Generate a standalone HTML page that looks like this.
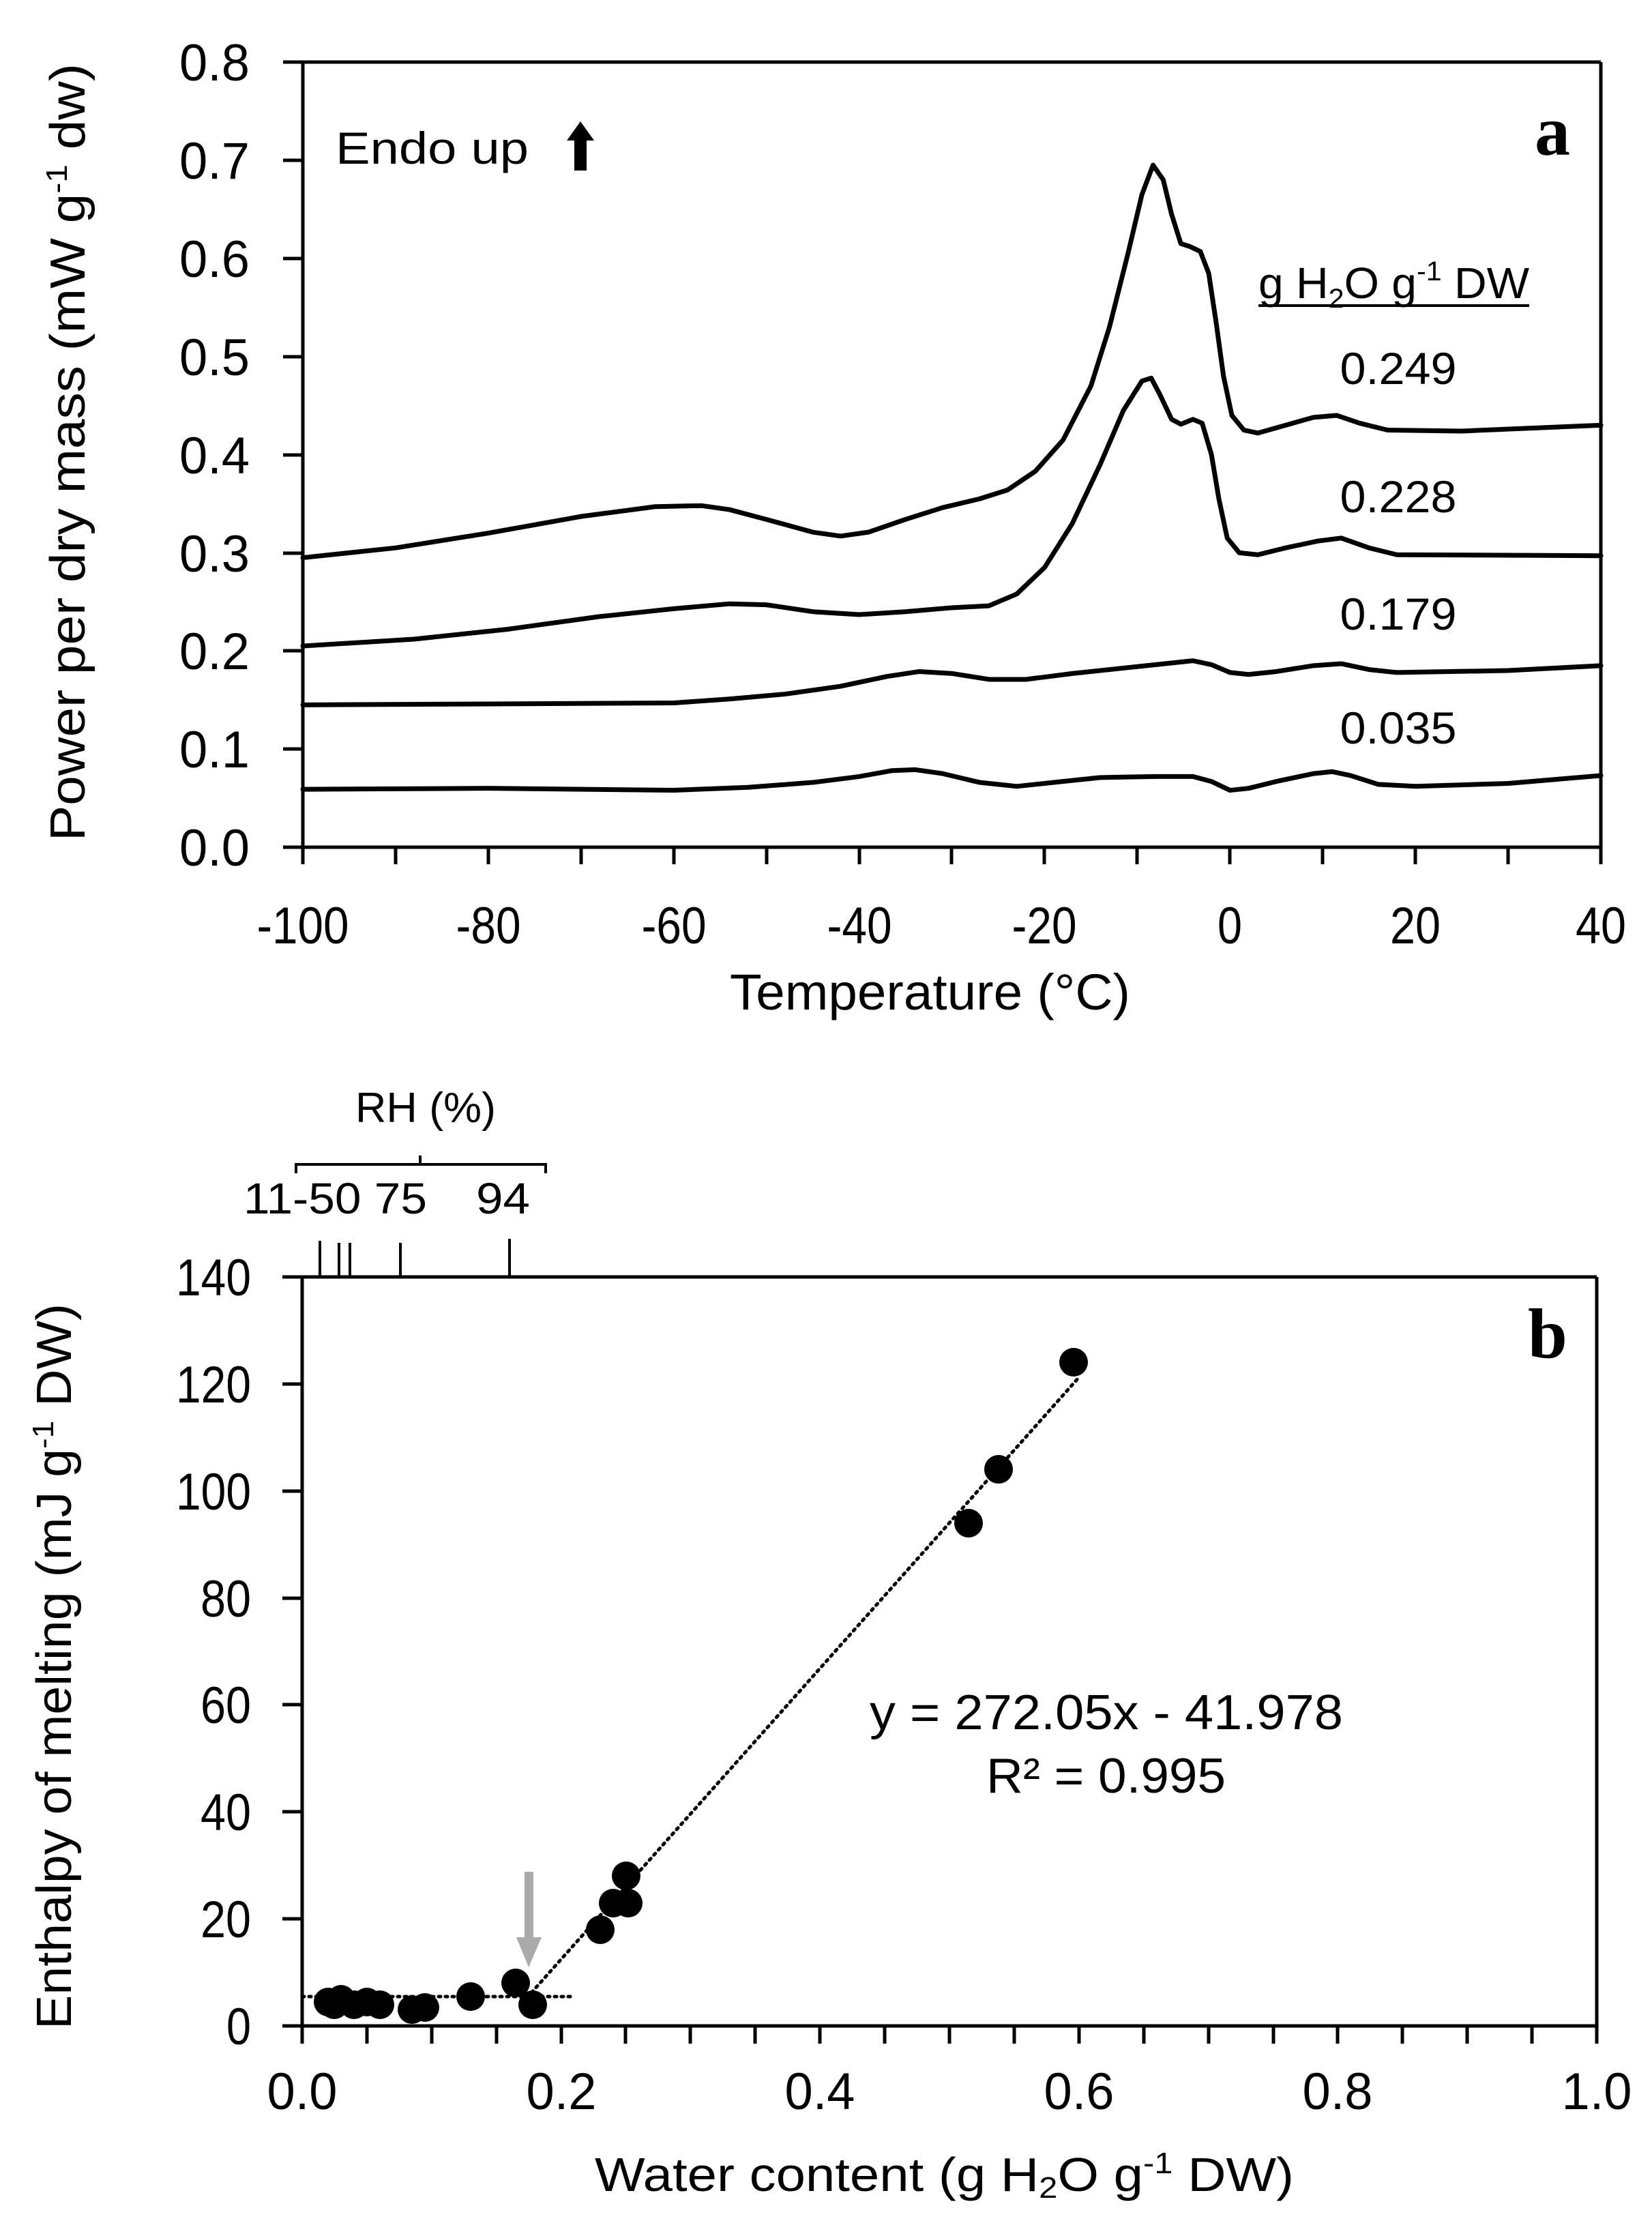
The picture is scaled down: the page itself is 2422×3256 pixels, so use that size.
<!DOCTYPE html>
<html><head><meta charset="utf-8"><style>html,body{margin:0;padding:0;background:#fff}svg{display:block}</style></head>
<body>
<svg width="2422" height="3256" viewBox="0 0 2422 3256" xmlns="http://www.w3.org/2000/svg" font-family="Liberation Sans, sans-serif" fill="#000">
<rect width="2422" height="3256" fill="#fff"/>
<!-- PANEL A -->
<g stroke="#000" stroke-width="5" fill="none">
<line x1="444" y1="91" x2="2347" y2="91"/>
<line x1="2347" y1="91" x2="2347" y2="1242"/>
<line x1="444" y1="91" x2="444" y2="1267"/>
<line x1="415" y1="1242" x2="2347" y2="1242"/>
<path d="M415 91H444M415 235H444M415 379H444M415 523H444M415 667H444M415 811H444M415 954H444M415 1098H444"/>
<path d="M580 1242v25M716 1242v25M852 1242v25M988 1242v25M1124 1242v25M1260 1242v25M1395 1242v25M1531 1242v25M1667 1242v25M1803 1242v25M1939 1242v25M2075 1242v25M2211 1242v25M2347 1242v25"/>
</g>
<g font-size="76" text-anchor="end" lengthAdjust="spacingAndGlyphs">
<text x="366" y="118" textLength="103" lengthAdjust="spacingAndGlyphs">0.8</text><text x="366" y="262" textLength="103" lengthAdjust="spacingAndGlyphs">0.7</text><text x="366" y="406" textLength="103" lengthAdjust="spacingAndGlyphs">0.6</text><text x="366" y="550" textLength="103" lengthAdjust="spacingAndGlyphs">0.5</text><text x="366" y="694" textLength="103" lengthAdjust="spacingAndGlyphs">0.4</text><text x="366" y="838" textLength="103" lengthAdjust="spacingAndGlyphs">0.3</text><text x="366" y="981" textLength="103" lengthAdjust="spacingAndGlyphs">0.2</text><text x="366" y="1125" textLength="103" lengthAdjust="spacingAndGlyphs">0.1</text><text x="366" y="1269" textLength="103" lengthAdjust="spacingAndGlyphs">0.0</text>
</g>
<g font-size="76" text-anchor="middle">
<text x="444" y="1383" textLength="135" lengthAdjust="spacingAndGlyphs">-100</text><text x="716" y="1383" textLength="95" lengthAdjust="spacingAndGlyphs">-80</text><text x="988" y="1383" textLength="95" lengthAdjust="spacingAndGlyphs">-60</text><text x="1260" y="1383" textLength="95" lengthAdjust="spacingAndGlyphs">-40</text><text x="1531" y="1383" textLength="95" lengthAdjust="spacingAndGlyphs">-20</text><text x="1803" y="1383" textLength="36" lengthAdjust="spacingAndGlyphs">0</text><text x="2075" y="1383" textLength="74" lengthAdjust="spacingAndGlyphs">20</text><text x="2347" y="1383" textLength="74" lengthAdjust="spacingAndGlyphs">40</text>
</g>
<text x="1070" y="1480" font-size="74" textLength="587" lengthAdjust="spacingAndGlyphs">Temperature (°C)</text>
<text transform="translate(124,1233) rotate(-90)" font-size="72" textLength="1140" lengthAdjust="spacingAndGlyphs">Power per dry mass (mW g<tspan font-size="44" dy="-26">-1</tspan><tspan dy="26"> dw)</tspan></text>
<text x="492" y="240" font-size="66" textLength="283" lengthAdjust="spacingAndGlyphs">Endo up</text>
<polygon points="851,178 871,206 860,206 860,250 842,250 842,206 831,206"/>
<text x="2250" y="227" font-size="104" font-weight="bold" font-family="Liberation Serif, serif">a</text>
<text x="1845" y="437" font-size="64" textLength="397" lengthAdjust="spacingAndGlyphs">g H<tspan font-size="40" dy="14">2</tspan><tspan dy="-14">O g</tspan><tspan font-size="40" dy="-26">-1</tspan><tspan dy="26"> DW</tspan></text>
<line x1="1845" y1="448" x2="2242" y2="448" stroke="#000" stroke-width="4"/>
<g font-size="66" text-anchor="middle">
<text x="2050" y="563" textLength="171" lengthAdjust="spacingAndGlyphs">0.249</text><text x="2050" y="751" textLength="171" lengthAdjust="spacingAndGlyphs">0.228</text><text x="2050" y="923" textLength="171" lengthAdjust="spacingAndGlyphs">0.179</text><text x="2050" y="1090" textLength="171" lengthAdjust="spacingAndGlyphs">0.035</text>
</g>
<g transform="translate(444,1242) scale(13.593,-1438.75) translate(100,0)" fill="none" stroke="#000" stroke-width="7" stroke-linejoin="round" stroke-linecap="round">
<polyline vector-effect="non-scaling-stroke" points="-100,0.295 -90,0.305 -80,0.32 -70,0.337 -62,0.347 -57,0.348 -54,0.344 -50,0.334 -45,0.321 -42,0.317 -39,0.321 -35,0.334 -31,0.346 -27,0.355 -24,0.364 -21,0.383 -18,0.415 -15,0.47 -13,0.53 -11,0.605 -9.5,0.665 -8.3,0.695 -7.2,0.68 -6.3,0.645 -5.3,0.615 -4.3,0.612 -3.2,0.607 -2.3,0.585 -1.5,0.535 -0.7,0.48 0.2,0.44 1.5,0.425 3,0.422 6,0.43 9,0.438 11.5,0.44 14,0.432 17,0.425 25,0.424 40,0.43"/>
<polyline vector-effect="non-scaling-stroke" points="-100,0.205 -88,0.212 -78,0.222 -68,0.235 -60,0.243 -54,0.248 -50,0.247 -45,0.24 -40,0.237 -35,0.24 -30,0.244 -26,0.246 -23,0.258 -20,0.285 -17,0.33 -14,0.39 -11.5,0.445 -9.5,0.475 -8.5,0.478 -7.5,0.46 -6.3,0.436 -5.3,0.431 -4,0.436 -3,0.432 -2,0.4 -1.2,0.355 -0.3,0.315 1,0.3 3,0.298 6,0.305 9.5,0.312 12,0.315 15,0.305 18,0.298 40,0.297"/>
<polyline vector-effect="non-scaling-stroke" points="-100,0.145 -80,0.146 -60,0.147 -54,0.151 -48,0.156 -42,0.164 -37,0.174 -33.5,0.179 -30,0.177 -26,0.171 -22,0.171 -17,0.177 -10,0.184 -6,0.188 -4,0.19 -2,0.186 0,0.178 2,0.176 5,0.179 9,0.185 12,0.187 15,0.181 18,0.178 30,0.18 40,0.185"/>
<polyline vector-effect="non-scaling-stroke" points="-100,0.059 -80,0.06 -60,0.058 -52,0.061 -45,0.066 -40,0.072 -36.5,0.078 -34,0.079 -31,0.075 -27,0.066 -23,0.062 -19,0.066 -14,0.071 -8,0.072 -4,0.072 -2,0.067 0,0.058 2,0.06 5,0.067 9,0.075 11,0.077 13,0.073 16,0.064 20,0.062 30,0.065 40,0.073"/>
</g>

<!-- PANEL B -->
<g stroke="#000" stroke-width="5" fill="none">
<line x1="443" y1="1872" x2="2341" y2="1872"/>
<line x1="2341" y1="1872" x2="2341" y2="2970"/>
<line x1="443" y1="1872" x2="443" y2="2996"/>
<line x1="414" y1="2970" x2="2341" y2="2970"/>
<path d="M414 1872H443M414 2029H443M414 2186H443M414 2343H443M414 2499H443M414 2656H443M414 2813H443"/>
<path d="M538 2970v26M633 2970v26M728 2970v26M823 2970v26M917 2970v26M1012 2970v26M1107 2970v26M1202 2970v26M1297 2970v26M1392 2970v26M1487 2970v26M1582 2970v26M1677 2970v26M1772 2970v26M1867 2970v26M1961 2970v26M2056 2970v26M2151 2970v26M2246 2970v26M2341 2970v26"/>
<path d="M469 1872V1819M497 1872V1822M513 1872V1822M587 1872V1822M747 1872V1816" stroke-width="4"/>
<path d="M434 1720V1707H800V1720M616 1707V1694" stroke-width="4"/>
</g>
<g font-size="76" text-anchor="end">
<text x="368" y="1899" textLength="110" lengthAdjust="spacingAndGlyphs">140</text><text x="368" y="2056" textLength="110" lengthAdjust="spacingAndGlyphs">120</text><text x="368" y="2213" textLength="110" lengthAdjust="spacingAndGlyphs">100</text><text x="368" y="2370" textLength="74" lengthAdjust="spacingAndGlyphs">80</text><text x="368" y="2526" textLength="74" lengthAdjust="spacingAndGlyphs">60</text><text x="368" y="2683" textLength="74" lengthAdjust="spacingAndGlyphs">40</text><text x="368" y="2840" textLength="74" lengthAdjust="spacingAndGlyphs">20</text><text x="368" y="2997" textLength="36" lengthAdjust="spacingAndGlyphs">0</text>
</g>
<g font-size="76" text-anchor="middle">
<text x="443" y="3092" textLength="103" lengthAdjust="spacingAndGlyphs">0.0</text><text x="823" y="3092" textLength="103" lengthAdjust="spacingAndGlyphs">0.2</text><text x="1202" y="3092" textLength="103" lengthAdjust="spacingAndGlyphs">0.4</text><text x="1582" y="3092" textLength="103" lengthAdjust="spacingAndGlyphs">0.6</text><text x="1961" y="3092" textLength="103" lengthAdjust="spacingAndGlyphs">0.8</text><text x="2341" y="3092" textLength="103" lengthAdjust="spacingAndGlyphs">1.0</text>
</g>
<text x="872" y="3212" font-size="70" textLength="1025" lengthAdjust="spacingAndGlyphs">Water content (g H<tspan font-size="44" dy="10">2</tspan><tspan dy="-10">O g</tspan><tspan font-size="44" dy="-26">-1</tspan><tspan dy="26"> DW)</tspan></text>
<text transform="translate(104,2975) rotate(-90)" font-size="72" textLength="1064" lengthAdjust="spacingAndGlyphs">Enthalpy of melting (mJ g<tspan font-size="44" dy="-26">-1</tspan><tspan dy="26"> DW)</tspan></text>
<text x="2240" y="1990" font-size="104" font-weight="bold" font-family="Liberation Serif, serif">b</text>
<text x="521" y="1645" font-size="62" textLength="206" lengthAdjust="spacingAndGlyphs">RH (%)</text>
<text x="357" y="1779" font-size="64" textLength="269" lengthAdjust="spacingAndGlyphs">11-50 75</text>
<text x="698" y="1779" font-size="64" textLength="79" lengthAdjust="spacingAndGlyphs">94</text>
<text x="1275" y="2535" font-size="72" textLength="694" lengthAdjust="spacingAndGlyphs">y = 272.05x - 41.978</text>
<text x="1446" y="2628" font-size="72" textLength="351" lengthAdjust="spacingAndGlyphs">R² = 0.995</text>
<g stroke="#000" stroke-width="5" stroke-dasharray="3,7" stroke-linecap="round" fill="none">
<line x1="766" y1="2936" x2="1582" y2="2019"/>
<line x1="443" y1="2927" x2="842" y2="2927"/>
</g>
<g fill="#aaa"><rect x="769" y="2744" width="13" height="100"/><polygon points="757,2840 794,2840 775,2884"/></g>
<g fill="#000">
<circle cx="481" cy="2935" r="21"/><circle cx="490" cy="2939" r="21"/><circle cx="500" cy="2931" r="21"/><circle cx="519" cy="2939" r="21"/><circle cx="538" cy="2935" r="21"/><circle cx="557" cy="2939" r="21"/><circle cx="604" cy="2946" r="21"/><circle cx="623" cy="2943" r="21"/><circle cx="690" cy="2927" r="21"/><circle cx="756" cy="2907" r="21"/><circle cx="781" cy="2939" r="21"/><circle cx="880" cy="2829" r="21"/><circle cx="899" cy="2790" r="21"/><circle cx="918" cy="2750" r="21"/><circle cx="921" cy="2790" r="21"/><circle cx="1420" cy="2233" r="21"/><circle cx="1464" cy="2154" r="21"/><circle cx="1574" cy="1997" r="21"/>
</g>
</svg>
</body></html>
